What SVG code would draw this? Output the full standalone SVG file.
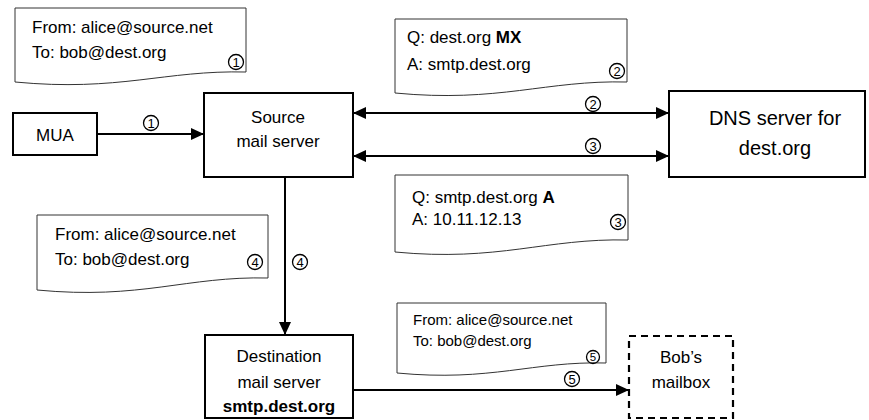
<svg xmlns="http://www.w3.org/2000/svg" width="869" height="420" viewBox="0 0 869 420">
<style>
.box{fill:#fff;stroke:#000;stroke-width:2}
.dash{fill:#fff;stroke:#000;stroke-width:2.2;stroke-dasharray:7 5}
.doc{fill:#fff;stroke:#333;stroke-width:1}
.t{font-family:"Liberation Sans",Arial,sans-serif;font-size:17px;fill:#000}
.s{font-size:15px}
.c{text-anchor:middle}
.b{font-weight:bold}
.big{font-size:20px}
.ci{fill:none;stroke:#000;stroke-width:1.3}
.d{font-family:"Liberation Sans",Arial,sans-serif;font-size:13px;text-anchor:middle;fill:#000}
.ln{stroke:#000;stroke-width:2;fill:none}
</style>
<defs>
<marker id="ah" markerUnits="userSpaceOnUse" markerWidth="14" markerHeight="12" refX="13" refY="6" orient="auto-start-reverse">
<path d="M0,0 L13,6 L0,12 z" fill="#000"/>
</marker>
</defs>

<g id="doc1">
<path class="doc" d="M15,8 H246 V72 C165,70 119,92 15,82 Z"/>
<text class="t" x="32" y="33">From: alice@source.net</text>
<text class="t" x="32" y="58">To: bob@dest.org</text>
<circle class="ci" cx="236" cy="62" r="7.5"/><text class="d" x="236" y="66.5">1</text>
</g>

<g id="doc2">
<path class="doc" d="M395,19 H627 V82 C546,80 499,103 395,93 Z"/>
<text class="t" x="407" y="43">Q: dest.org <tspan class="b">MX</tspan></text>
<text class="t" x="407" y="70">A: smtp.dest.org</text>
<circle class="ci" cx="617" cy="71" r="7.5"/><text class="d" x="617" y="75.5">2</text>
</g>

<g id="doc3">
<path class="doc" d="M395,175 H628 V240 C546,238 499,262 395,252 Z"/>
<text class="t" x="412" y="203">Q: smtp.dest.org <tspan class="b">A</tspan></text>
<text class="t" x="412" y="225">A: 10.11.12.13</text>
<circle class="ci" cx="618" cy="222" r="7.5"/><text class="d" x="618" y="226.5">3</text>
</g>

<g id="doc4">
<path class="doc" d="M37,215 H268 V278 C187,276 141,300 37,290 Z"/>
<text class="t" x="55" y="240">From: alice@source.net</text>
<text class="t" x="55" y="265">To: bob@dest.org</text>
<circle class="ci" cx="255" cy="262" r="7.5"/><text class="d" x="255" y="266.5">4</text>
</g>

<g id="doc5">
<path class="doc" d="M397,303 H606 V363 C533,361 491,382 397,373 Z"/>
<text class="t s" x="413" y="325">From: alice@source.net</text>
<text class="t s" x="413" y="346">To: bob@dest.org</text>
<circle class="ci" cx="593" cy="357" r="6.5"/><text class="d" x="593" y="361" style="font-size:11.5px">5</text>
</g>

<g id="mua">
<rect class="box" x="13" y="113" width="84" height="42"/>
<text class="t c" x="55" y="141">MUA</text>
</g>

<g id="source">
<rect class="box" x="204" y="93" width="149" height="84"/>
<text class="t c" x="278" y="123">Source</text>
<text class="t c" x="278" y="147">mail server</text>
</g>

<g id="dns">
<rect class="box" x="669" y="91" width="196" height="86"/>
<text class="t c big" x="775" y="125">DNS server for</text>
<text class="t c big" x="775" y="155">dest.org</text>
</g>

<g id="dest">
<rect class="box" x="205" y="335" width="148" height="83"/>
<text class="t c" x="279" y="362">Destination</text>
<text class="t c" x="279" y="388">mail server</text>
<text class="t c b" x="279" y="412">smtp.dest.org</text>
</g>

<g id="mailbox">
<rect class="dash" x="629" y="336" width="104" height="82"/>
<text class="t c" x="681" y="363">Bob’s</text>
<text class="t c" x="681" y="388">mailbox</text>
</g>

<g id="connectors">
<line class="ln" x1="97" y1="134" x2="204" y2="134" marker-end="url(#ah)"/>
<circle class="ci" cx="151" cy="123" r="7.5"/><text class="d" x="151" y="127.5">1</text>
<line class="ln" x1="353" y1="113" x2="669" y2="113" marker-start="url(#ah)" marker-end="url(#ah)"/>
<circle class="ci" cx="593" cy="104" r="7.5"/><text class="d" x="593" y="108.5">2</text>
<line class="ln" x1="353" y1="156" x2="669" y2="156" marker-start="url(#ah)" marker-end="url(#ah)"/>
<circle class="ci" cx="593" cy="146" r="7.5"/><text class="d" x="593" y="150.5">3</text>
<line class="ln" x1="285" y1="177" x2="285" y2="335" marker-end="url(#ah)"/>
<circle class="ci" cx="300" cy="262" r="7.5"/><text class="d" x="300" y="266.5">4</text>
<line class="ln" x1="353" y1="390" x2="629" y2="390" marker-end="url(#ah)"/>
<circle class="ci" cx="572" cy="379" r="7.5"/><text class="d" x="572" y="383.5">5</text>
</g>
</svg>
